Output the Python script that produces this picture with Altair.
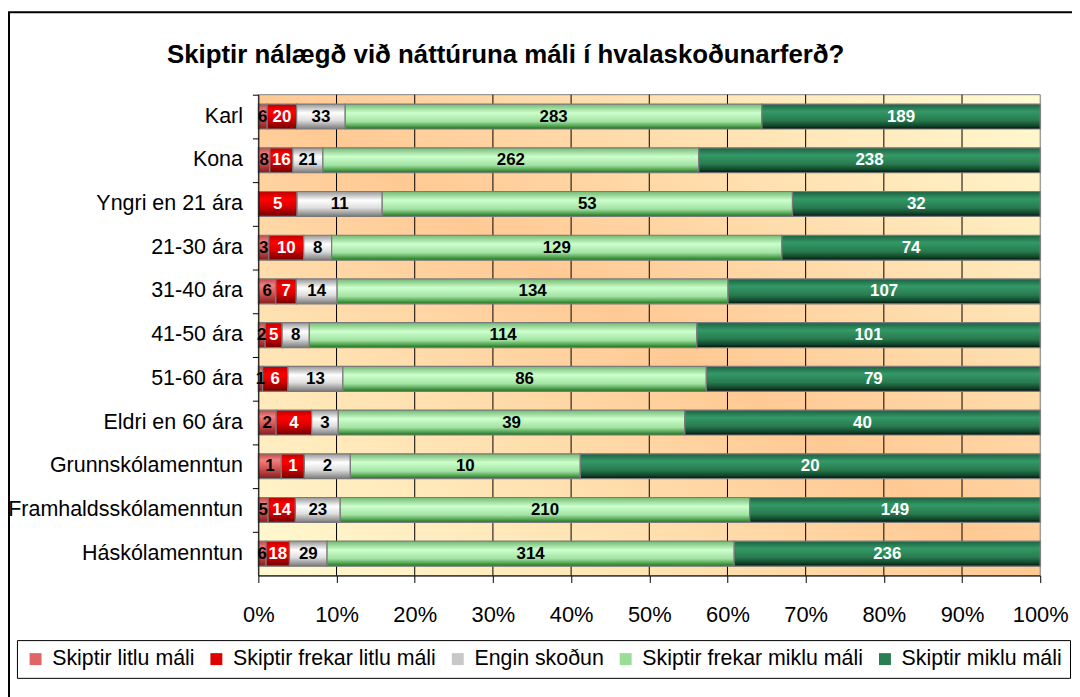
import altair as alt
import pandas as pd

CATS = ["Karl", "Kona", "Yngri en 21 ára", "21-30 ára", "31-40 ára", "41-50 ára",
        "51-60 ára", "Eldri en 60 ára", "Grunnskólamenntun",
        "Framhaldsskólamenntun", "Háskólamenntun"]
SERIES = ["Skiptir litlu máli", "Skiptir frekar litlu máli", "Engin skoðun",
          "Skiptir frekar miklu máli", "Skiptir miklu máli"]
litlu = [6, 8, 0, 3, 6, 2, 1, 2, 1, 5, 6]
frekar_litlu = [20, 16, 5, 10, 7, 5, 6, 4, 1, 14, 18]
engin = [33, 21, 11, 8, 14, 8, 13, 3, 2, 23, 29]
frekar_miklu = [283, 262, 53, 129, 134, 114, 86, 39, 10, 210, 314]
miklu = [189, 238, 32, 74, 107, 101, 79, 40, 20, 149, 236]
X_TICKS = [0, 0.1, 0.2, 0.3, 0.4, 0.5, 0.6, 0.7, 0.8, 0.9, 1.0]
GRID = X_TICKS[1:-1]
TITLE = ["Skiptir nálægð við náttúruna máli í hvalaskoðunarferð?"]

W, H = 787, 484
FONT = "Liberation Sans"

values = [litlu, frekar_litlu, engin, frekar_miklu, miklu]
rows = []
for si, s in enumerate(SERIES):
    for ci, c in enumerate(CATS):
        rows.append({"cat": c, "series": s, "order": si, "value": values[si][ci]})
df = pd.DataFrame(rows)
grid_df = pd.DataFrame({"g": GRID})
one = pd.DataFrame({"a": [0]})
title_df = pd.DataFrame({"t": TITLE})


def vgrad(stops):
    return alt.LinearGradient(
        gradient="linear", x1=0, y1=0, x2=0, y2=1,
        stops=[alt.GradientStop(color=c, offset=o) for o, c in stops])


BAR_GRADS = [
    vgrad([(0, "#BE4848"), (0.25, "#F08080"), (0.55, "#D65858"), (1, "#841C1C")]),
    vgrad([(0, "#C00000"), (0.3, "#FF0000"), (0.6, "#D80000"), (1, "#700000")]),
    vgrad([(0, "#959595"), (0.35, "#FFFFFF"), (0.65, "#DEDEDE"), (1, "#787878")]),
    vgrad([(0, "#72B872"), (0.35, "#CCFFCC"), (0.7, "#A2E2A2"), (0.88, "#52A252"), (1, "#187218")]),
    vgrad([(0, "#1C6042"), (0.3, "#339966"), (0.65, "#287A4F"), (0.88, "#10442A"), (1, "#03100A")]),
]
LEGEND_COLORS = ["#E06666", "#E00000", "#C8C8C8", "#99DD99", "#2A7E52"]
WHITE_LABELS = [SERIES[1], SERIES[4]]
BLACK_LABELS = [SERIES[0], SERIES[2], SERIES[3]]

bg_grad = alt.LinearGradient(
    gradient="linear", x1=0, y1=1, x2=1, y2=0,
    stops=[alt.GradientStop(color="#FFFBD2", offset=0),
           alt.GradientStop(color="#FFE2B2", offset=0.27),
           alt.GradientStop(color="#FFC994", offset=0.5),
           alt.GradientStop(color="#FFE0B0", offset=0.73),
           alt.GradientStop(color="#FFFBD2", offset=1)])

XS = alt.Scale(domain=[0, 1], nice=False, zero=True)
XAX = alt.Axis(title=None, values=X_TICKS, format=".0%", labelFontSize=22,
               labelFont=FONT, labelColor="black", tickSize=7, tickColor="black",
               domainColor="black", labelPadding=22, grid=False, zindex=1,
               labelFlush=False)
YS = alt.Scale(domain=CATS, paddingInner=0, paddingOuter=0)
YAX = alt.Axis(title=None, labelFontSize=21.6, labelFont=FONT, labelColor="black",
               labelPadding=10, tickSize=6, tickColor="black", domainColor="black",
               bandPosition=0, zindex=1, grid=False, labelLimit=400)

bg = alt.Chart(one).mark_rect(color=bg_grad, stroke="#808080", strokeWidth=1).encode(
    x=alt.value(0), x2=alt.value(W), y=alt.value(0), y2=alt.value(H))

grid = alt.Chart(grid_df).mark_rule(color="black", strokeWidth=1).encode(
    x=alt.X("g:Q", scale=XS, axis=XAX), y=alt.value(0), y2=alt.value(H))

base = alt.Chart(df).transform_filter("datum.value > 0").transform_stack(
    stack="value", groupby=["cat"], offset="normalize",
    sort=[alt.SortField("order", order="ascending")], as_=["x0", "x1"]
).transform_calculate(mid="(datum.x0 + datum.x1) / 2")

bars = []
for s, g in zip(SERIES, BAR_GRADS):
    bars.append(
        base.transform_filter(alt.datum.series == s)
        .mark_bar(color=g, stroke="#7A7A7A", strokeWidth=1.2,
                  height=alt.RelativeBandSize(band=0.57))
        .encode(y=alt.Y("cat:N", scale=YS, axis=YAX),
                x=alt.X("x0:Q", scale=XS, axis=XAX), x2="x1:Q"))

legend_layer = base.mark_square(opacity=0).encode(
    x=alt.X("mid:Q", scale=XS, axis=XAX),
    y=alt.Y("cat:N", scale=YS, axis=YAX),
    color=alt.Color("series:N", sort=SERIES,
                    scale=alt.Scale(domain=SERIES, range=LEGEND_COLORS),
                    legend=alt.Legend(title=None, orient="none", legendX=-243,
                                      legendY=549, direction="horizontal",
                                      columns=5, labelFontSize=21.5, labelFont=FONT,
                                      labelColor="black", labelLimit=500,
                                      symbolSize=144, symbolType="square",
                                      symbolStrokeWidth=0, symbolOpacity=1,
                                      columnPadding=11, padding=8,
                                      strokeColor="black", fillColor="white",
                                      labelOffset=6)))


def labels(series_list, color):
    return base.transform_filter(
        alt.FieldOneOfPredicate(field="series", oneOf=series_list)
    ).mark_text(fontSize=17, fontWeight="bold", font=FONT, color=color,
                align="center", baseline="middle").encode(
        x=alt.X("mid:Q", scale=XS, axis=XAX),
        y=alt.Y("cat:N", scale=YS, axis=YAX),
        text="value:Q")


title = alt.Chart(title_df).mark_text(
    fontSize=26, fontWeight="bold", font=FONT, color="black",
    align="left", baseline="alphabetic").encode(
    x=alt.value(-92), y=alt.value(-32), text="t:N")

frame = alt.Chart(one).mark_rect(filled=False, stroke="black", strokeWidth=2).encode(
    x=alt.value(-251), x2=alt.value(W + 60), y=alt.value(-83), y2=alt.value(H + 200))

chart = alt.layer(bg, grid, *bars, legend_layer,
                  labels(BLACK_LABELS, "black"), labels(WHITE_LABELS, "white"),
                  title, frame).properties(
    width=W, height=H,
    padding={"left": 252, "top": 85, "right": 32, "bottom": 120},
    autosize=alt.AutoSizeParams(type="none"),
).configure_view(stroke="transparent").configure(font=FONT, background="white")

chart.save("out.html", embed_options={"renderer": "svg", "actions": False})
